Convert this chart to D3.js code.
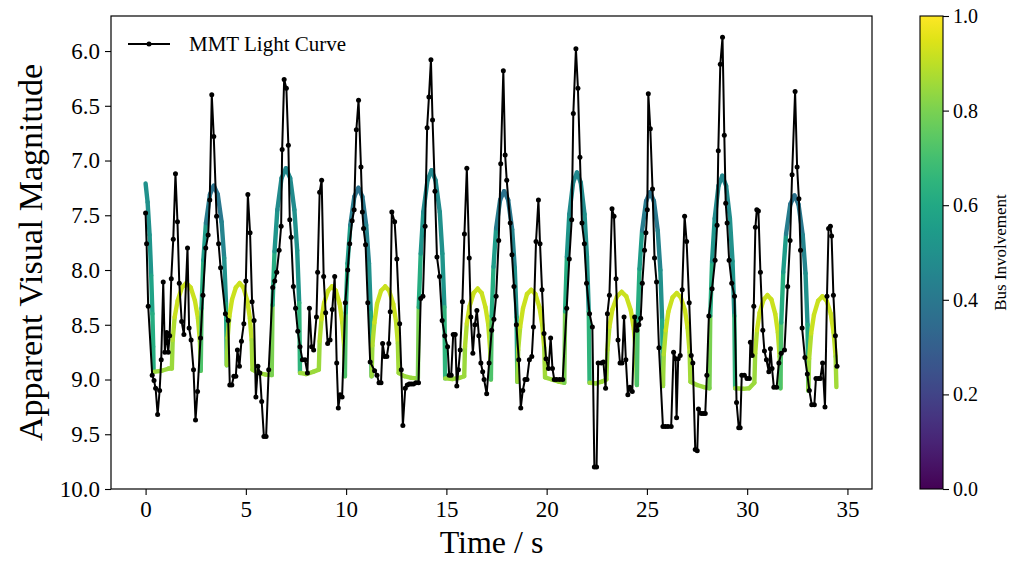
<!DOCTYPE html>
<html>
<head>
<meta charset="utf-8">
<script src="https://cdn.jsdelivr.net/npm/d3@7"></script>
<style>
  body { margin: 0; background: #fff; }
  svg { display: block; font-family: "Liberation Serif", "Times New Roman", serif; }
</style>
</head>
<body>
<svg id="chart" width="1011" height="562"></svg>
<script>
// light curve (time in s, apparent magnitude)
const lcTime = [0.00,0.05,0.13,0.33,0.42,0.50,0.60,0.70,0.78,0.88,0.96,1.05,1.13,1.20,1.28,1.38,1.49,1.59,1.68,1.80,1.91,2.09,2.17,2.27,2.39,2.49,2.59,2.74,2.86,3.00,3.12,3.20,3.30,3.40,3.54,3.64,3.74,3.98,4.12,4.20,4.30,4.40,4.50,4.58,4.68,4.78,4.90,5.00,5.10,5.21,5.31,5.41,5.50,5.60,5.70,5.79,5.90,6.01,6.14,6.34,6.44,6.54,6.66,6.76,6.81,6.91,7.02,7.12,7.19,7.26,7.37,7.48,7.59,7.70,7.82,7.95,8.07,8.17,8.28,8.38,8.52,8.58,8.68,8.78,8.88,8.98,9.08,9.20,9.31,9.43,9.53,9.61,9.70,9.80,9.96,10.08,10.18,10.30,10.40,10.51,10.62,10.74,10.81,10.87,10.97,11.08,11.20,11.42,11.54,11.64,11.74,11.82,11.92,12.03,12.13,12.20,12.28,12.42,12.53,12.67,12.75,12.83,12.95,13.05,13.15,13.25,13.36,13.48,13.61,13.72,13.83,13.94,14.04,14.13,14.23,14.31,14.43,14.53,14.66,14.79,14.92,15.06,15.14,15.24,15.34,15.44,15.52,15.60,15.69,15.80,15.90,16.02,16.14,16.22,16.32,16.42,16.52,16.62,16.72,16.81,16.88,17.01,17.13,17.26,17.37,17.48,17.61,17.71,17.84,17.93,18.01,18.18,18.27,18.37,18.49,18.61,18.71,18.81,18.92,19.02,19.14,19.26,19.34,19.47,19.59,19.67,19.77,19.87,19.97,20.09,20.20,20.29,20.38,20.50,20.65,20.80,21.00,21.13,21.25,21.33,21.46,21.56,21.66,21.76,21.88,21.99,22.14,22.28,22.38,22.49,22.57,22.73,22.83,22.94,23.03,23.13,23.26,23.36,23.46,23.56,23.66,23.76,23.86,23.95,24.05,24.15,24.27,24.39,24.50,24.60,24.69,24.77,24.88,24.95,25.02,25.07,25.17,25.28,25.38,25.48,25.60,25.80,25.92,26.05,26.21,26.33,26.43,26.48,26.56,26.66,26.76,26.88,26.98,27.11,27.21,27.29,27.41,27.51,27.57,27.71,27.81,27.91,27.99,28.09,28.25,28.40,28.50,28.56,28.66,28.77,28.86,28.93,29.00,29.10,29.23,29.37,29.47,29.58,29.65,29.73,29.86,29.99,30.11,30.16,30.25,30.33,30.41,30.48,30.56,30.66,30.78,30.86,30.96,31.08,31.16,31.24,31.33,31.47,31.58,31.70,31.86,32.02,32.14,32.24,32.39,32.49,32.58,32.66,32.74,32.88,33.00,33.10,33.22,33.35,33.43,33.55,33.65,33.76,33.88,33.98,34.06,34.15,34.21,34.30,34.40,34.48];
const lcMag = [7.48,7.76,8.33,8.96,9.01,9.08,9.32,9.10,8.82,8.11,8.75,8.57,8.75,8.60,8.08,7.72,7.12,7.56,8.12,8.47,8.59,7.80,8.53,8.64,8.91,9.37,9.11,8.62,8.23,7.80,7.68,7.36,6.40,6.78,7.51,7.76,7.98,8.40,8.46,9.05,9.05,8.97,8.97,8.73,8.88,8.65,8.49,8.10,7.31,7.66,8.29,8.46,9.16,8.88,8.94,9.20,9.52,9.52,8.91,8.16,8.10,8.02,7.82,7.60,6.90,6.26,6.34,6.86,7.54,7.70,8.15,8.35,8.56,8.70,8.82,8.82,8.94,8.35,8.70,8.73,8.43,8.02,7.29,7.18,8.06,8.39,8.67,8.64,8.36,8.06,8.85,9.26,9.14,9.16,8.30,8.00,7.76,7.55,7.45,6.72,6.45,7.06,7.47,7.62,7.77,8.30,8.84,8.92,8.96,9.03,9.03,8.67,8.79,8.79,8.67,8.38,7.47,7.56,7.90,8.49,8.91,9.42,9.08,9.05,9.04,9.04,9.04,9.03,9.03,8.26,8.24,7.60,6.70,6.42,6.08,6.63,7.28,7.88,8.06,8.46,8.60,8.70,8.96,8.96,8.59,8.59,9.06,8.91,8.73,8.29,7.67,7.07,7.89,8.43,8.76,8.50,8.37,8.60,8.85,8.93,9.00,9.13,8.85,8.55,8.45,8.24,7.73,7.03,6.18,6.95,7.18,7.57,7.86,8.15,8.50,8.82,9.26,9.10,9.00,9.00,8.82,8.79,8.52,7.74,7.36,7.76,8.18,8.58,8.81,8.90,8.62,8.90,9.00,9.00,9.00,9.00,8.35,7.90,7.54,6.57,5.98,6.34,6.97,7.57,7.76,8.12,8.40,8.52,9.80,9.80,8.85,8.85,8.84,9.08,8.40,8.23,7.44,7.51,8.08,8.64,8.85,8.85,8.43,8.82,9.14,9.07,9.11,8.43,8.55,8.50,8.44,8.12,7.82,7.66,7.45,6.39,6.71,7.26,7.89,8.11,8.71,9.43,9.43,9.43,9.43,8.75,8.81,9.35,8.81,8.78,8.18,7.51,7.74,8.30,8.78,8.85,9.64,9.65,9.27,9.31,9.31,9.31,8.96,8.42,8.17,7.91,7.59,6.91,6.12,5.875,6.77,7.39,7.57,7.91,8.12,8.24,9.21,9.44,9.44,8.96,8.96,8.99,8.99,8.66,8.78,8.33,7.61,7.45,7.46,8.02,8.55,8.74,8.82,8.93,8.72,8.90,9.07,9.07,8.85,8.76,8.73,8.15,7.73,7.13,6.37,7.06,7.35,7.82,8.53,8.80,8.95,9.10,9.23,9.23,8.99,8.99,8.99,8.85,9.25,8.24,7.62,7.60,7.69,8.23,8.60,8.88];

// model curve: time, magnitude and bus involvement (colour of the segment that starts at each point)
const modelTime = [0.00,0.10,0.20,0.28,0.34,0.38,
  0.40,0.80,1.15,
  1.31,1.35,1.45,1.60,1.81,2.03,2.25,2.46,2.61,2.71,
  2.75,2.79,2.88,3.01,3.21,3.40,3.60,3.79,3.92,4.01,
  4.05,4.09,4.18,4.31,4.50,4.69,4.88,5.07,5.20,5.29,
  5.33,5.60,6.00,
  6.29,6.33,6.43,6.57,6.78,7.00,7.21,7.42,7.56,7.66,
  7.70,8.00,8.35,
  8.64,8.68,8.77,8.90,9.10,9.29,9.49,9.68,9.81,9.90,
  9.94,9.98,10.07,10.21,10.41,10.61,10.81,11.00,11.14,11.23,
  11.27,11.31,11.41,11.54,11.74,11.95,12.15,12.35,12.49,12.58,
  12.62,12.90,13.25,
  13.58,13.62,13.72,13.85,14.06,14.26,14.46,14.67,14.80,14.90,
  14.94,15.30,15.65,
  15.89,15.93,16.02,16.16,16.36,16.56,16.76,16.95,17.09,17.18,
  17.22,17.26,17.35,17.48,17.68,17.88,18.08,18.28,18.41,18.50,
  18.54,18.58,18.68,18.82,19.02,19.23,19.44,19.64,19.78,19.88,
  19.92,20.25,20.60,
  20.88,20.92,21.01,21.13,21.32,21.51,21.70,21.89,22.01,22.10,
  22.14,22.45,22.75,
  22.98,23.03,23.13,23.28,23.51,23.74,23.97,24.20,24.35,24.45,
  24.50,24.54,24.63,24.76,24.96,25.15,25.35,25.54,25.67,25.76,
  25.80,25.84,25.94,26.07,26.28,26.49,26.69,26.90,27.03,27.13,
  27.17,27.50,27.85,
  28.12,28.16,28.25,28.38,28.57,28.76,28.95,29.14,29.27,29.36,
  29.40,29.80,30.10,
  30.36,30.40,30.49,30.62,30.82,31.01,31.21,31.40,31.53,31.62,
  31.66,31.70,31.80,31.94,32.15,32.36,32.56,32.77,32.91,33.01,
  33.05,33.09,33.19,33.33,33.54,33.75,33.96,34.17,34.31,34.41,34.45];
const modelMag = [7.21,7.38,7.68,8.05,8.40,8.70,
  8.93,8.92,8.90,
  8.90,8.64,8.43,8.28,8.16,8.12,8.16,8.28,8.44,8.65,
  8.92,8.35,7.91,7.57,7.31,7.23,7.31,7.56,7.89,8.31,
  8.87,8.62,8.42,8.27,8.16,8.12,8.16,8.28,8.44,8.64,
  8.91,8.94,8.955,
  8.96,8.32,7.83,7.45,7.16,7.07,7.16,7.45,7.82,8.30,
  8.94,8.95,8.93,
  8.91,8.65,8.45,8.30,8.19,8.15,8.19,8.31,8.48,8.69,
  8.97,8.39,7.94,7.59,7.33,7.25,7.33,7.59,7.94,8.39,
  8.97,8.69,8.48,8.31,8.19,8.15,8.19,8.31,8.47,8.67,
  8.94,8.97,8.985,
  8.99,8.34,7.85,7.47,7.18,7.09,7.18,7.47,7.85,8.34,
  8.99,8.995,8.985,
  8.97,8.70,8.49,8.33,8.21,8.17,8.21,8.34,8.50,8.72,
  9.00,8.42,7.97,7.62,7.36,7.28,7.36,7.63,7.98,8.43,
  9.02,8.73,8.52,8.35,8.22,8.18,8.22,8.34,8.50,8.71,
  8.98,9.00,9.02,
  9.03,8.38,7.88,7.49,7.20,7.11,7.20,7.49,7.88,8.38,
  9.03,9.035,9.02,
  9.00,8.73,8.52,8.36,8.24,8.20,8.24,8.37,8.54,8.76,
  9.05,8.45,7.99,7.64,7.37,7.29,7.37,7.64,8.00,8.46,
  9.06,8.77,8.55,8.38,8.25,8.21,8.25,8.37,8.53,8.75,
  9.02,9.05,9.07,
  9.08,8.42,7.92,7.53,7.23,7.14,7.23,7.53,7.92,8.42,
  9.08,9.085,9.08,
  9.03,8.76,8.55,8.39,8.27,8.23,8.27,8.40,8.57,8.79,
  9.08,8.48,8.02,7.67,7.40,7.32,7.40,7.68,8.03,8.50,
  9.10,8.81,8.58,8.41,8.28,8.24,8.28,8.40,8.57,8.79,9.07];
const modelBus = [0.50,0.50,0.52,0.58,0.62,0.62,
  0.85,0.85,0.85,
  0.85,0.88,0.92,0.92,0.92,0.92,0.92,0.92,0.90,0.86,
  0.72,0.62,0.55,0.42,0.38,0.38,0.40,0.45,0.50,0.60,
  0.85,0.88,0.92,0.92,0.92,0.92,0.92,0.92,0.90,0.86,
  0.85,0.85,0.85,
  0.80,0.62,0.52,0.48,0.47,0.47,0.48,0.50,0.52,0.65,
  0.85,0.85,0.85,
  0.85,0.88,0.92,0.92,0.92,0.92,0.92,0.92,0.90,0.86,
  0.72,0.62,0.55,0.42,0.38,0.38,0.40,0.45,0.50,0.60,
  0.85,0.88,0.92,0.92,0.92,0.92,0.92,0.92,0.90,0.86,
  0.85,0.85,0.85,
  0.80,0.62,0.52,0.48,0.47,0.47,0.48,0.50,0.52,0.65,
  0.85,0.85,0.85,
  0.85,0.88,0.92,0.92,0.92,0.92,0.92,0.92,0.90,0.86,
  0.72,0.62,0.55,0.42,0.38,0.38,0.40,0.45,0.50,0.60,
  0.85,0.88,0.92,0.92,0.92,0.92,0.92,0.92,0.90,0.86,
  0.85,0.85,0.85,
  0.80,0.62,0.52,0.48,0.47,0.47,0.48,0.50,0.52,0.65,
  0.85,0.85,0.85,
  0.85,0.88,0.92,0.92,0.92,0.92,0.92,0.92,0.90,0.86,
  0.72,0.62,0.55,0.42,0.38,0.38,0.40,0.45,0.50,0.60,
  0.85,0.88,0.92,0.92,0.92,0.92,0.92,0.92,0.90,0.86,
  0.85,0.85,0.85,
  0.80,0.62,0.52,0.48,0.47,0.47,0.48,0.50,0.52,0.65,
  0.85,0.85,0.85,
  0.85,0.88,0.92,0.92,0.92,0.92,0.92,0.92,0.90,0.86,
  0.72,0.62,0.55,0.42,0.38,0.38,0.40,0.45,0.50,0.60,
  0.85,0.88,0.92,0.92,0.92,0.92,0.92,0.92,0.90,0.86,0.86];

const xTicks = [0, 5, 10, 15, 20, 25, 30, 35];
const yTicks = [6.0, 6.5, 7.0, 7.5, 8.0, 8.5, 9.0, 9.5, 10.0];
const cbTicks = [0.0, 0.2, 0.4, 0.6, 0.8, 1.0];

const svg = d3.select("#chart");
const pLeft = 111, pRight = 872, pTop = 16, pBottom = 489;
const cbX = 920, cbW = 23;

const x = d3.scaleLinear().domain([-1.725, 36.225]).range([pLeft, pRight]);
const y = d3.scaleLinear().domain([5.68, 10.0]).range([pTop, pBottom]);   // magnitudes: bright at top
const c = d3.scaleLinear().domain([0, 1]).range([pBottom, pTop]);

const defs = svg.append("defs");
defs.append("clipPath").attr("id", "plotclip")
  .append("rect").attr("x", pLeft).attr("y", pTop)
  .attr("width", pRight - pLeft).attr("height", pBottom - pTop);

const plot = svg.append("g").attr("clip-path", "url(#plotclip)");

// model, one coloured piece per pair of points
const segs = d3.range(modelTime.length - 1);
plot.append("g").selectAll("line").data(segs).join("line")
  .attr("x1", i => x(modelTime[i])).attr("y1", i => y(modelMag[i]))
  .attr("x2", i => x(modelTime[i + 1])).attr("y2", i => y(modelMag[i + 1]))
  .attr("stroke", i => d3.interpolateViridis(modelBus[i]))
  .attr("stroke-width", 4.4)
  .attr("stroke-linecap", "round");

// light curve
const lc = lcTime.map((t, i) => [t, lcMag[i]]);
plot.append("path").datum(lc)
  .attr("fill", "none").attr("stroke", "#000").attr("stroke-width", 2)
  .attr("stroke-linejoin", "round")
  .attr("d", d3.line().x(d => x(d[0])).y(d => y(d[1])));
plot.append("g").selectAll("circle").data(lc).join("circle")
  .attr("cx", d => x(d[0])).attr("cy", d => y(d[1])).attr("r", 2.5)
  .attr("fill", "#000");

// axes
const xAxis = svg.append("g").attr("transform", "translate(0," + pBottom + ")")
  .call(d3.axisBottom(x).tickValues(xTicks).tickSize(6).tickPadding(6));
const yAxis = svg.append("g").attr("transform", "translate(" + pLeft + ",0)")
  .call(d3.axisLeft(y).tickValues(yTicks).tickFormat(d3.format(".1f")).tickSize(6).tickPadding(5));
[xAxis, yAxis].forEach(a => {
  a.select(".domain").remove();
  a.selectAll("line").attr("stroke", "#000").attr("stroke-width", 1.1);
  a.selectAll("text").attr("font-family", "Liberation Serif, serif")
    .attr("font-size", 23).attr("fill", "#000");
});
svg.append("rect").attr("x", pLeft).attr("y", pTop)
  .attr("width", pRight - pLeft).attr("height", pBottom - pTop)
  .attr("fill", "none").attr("stroke", "#000").attr("stroke-width", 1.2);

svg.append("text").attr("x", (pLeft + pRight) / 2).attr("y", 553)
  .attr("text-anchor", "middle").attr("font-size", 32).text("Time / s");
svg.append("text")
  .attr("transform", "translate(42," + ((pTop + pBottom) / 2) + ") rotate(-90)")
  .attr("text-anchor", "middle").attr("font-size", 34).text("Apparent Visual Magnitude");

// legend
const lg = svg.append("g");
lg.append("line").attr("x1", 128).attr("x2", 170).attr("y1", 44).attr("y2", 44)
  .attr("stroke", "#000").attr("stroke-width", 2);
lg.append("circle").attr("cx", 149).attr("cy", 44).attr("r", 2.5).attr("fill", "#000");
lg.append("text").attr("x", 189).attr("y", 44).attr("dy", "0.35em")
  .attr("font-size", 21).text("MMT Light Curve");

// colour bar
const grad = defs.append("linearGradient").attr("id", "viridis")
  .attr("x1", 0).attr("y1", 1).attr("x2", 0).attr("y2", 0);
d3.range(0, 1.0001, 0.05).forEach(s => {
  grad.append("stop").attr("offset", s).attr("stop-color", d3.interpolateViridis(s));
});
svg.append("rect").attr("x", cbX).attr("y", pTop).attr("width", cbW).attr("height", pBottom - pTop)
  .attr("fill", "url(#viridis)").attr("stroke", "#000").attr("stroke-width", 1.1);
const cAxis = svg.append("g").attr("transform", "translate(" + (cbX + cbW) + ",0)")
  .call(d3.axisRight(c).tickValues(cbTicks).tickFormat(d3.format(".1f")).tickSize(6).tickPadding(4));
cAxis.select(".domain").remove();
cAxis.selectAll("line").attr("stroke", "#000").attr("stroke-width", 1.1);
cAxis.selectAll("text").attr("font-family", "Liberation Serif, serif")
  .attr("font-size", 20).attr("fill", "#000");
svg.append("text")
  .attr("transform", "translate(1000," + ((pTop + pBottom) / 2) + ") rotate(-90)")
  .attr("text-anchor", "middle").attr("dy", "0.35em").attr("font-size", 17).text("Bus Involvement");
</script>
</body>
</html>
